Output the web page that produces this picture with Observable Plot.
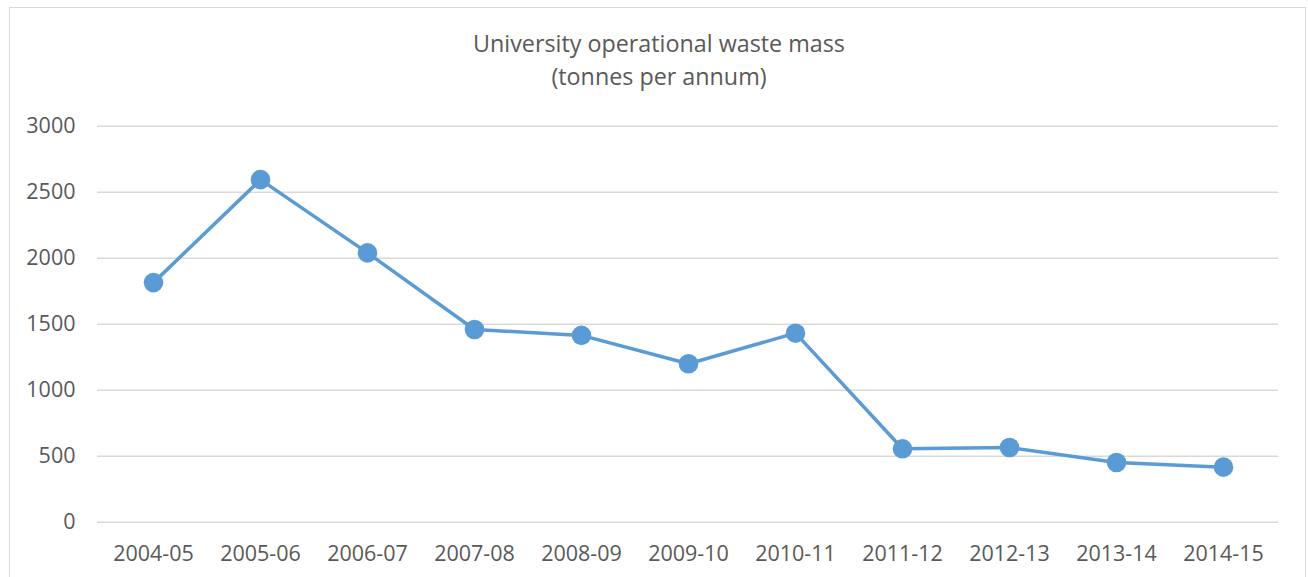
<!DOCTYPE html>
<html>
<head>
<meta charset="utf-8">
<script src="https://cdn.jsdelivr.net/npm/d3@7"></script>
<script src="https://cdn.jsdelivr.net/npm/@observablehq/plot@0.6"></script>
<style>
  html, body { margin: 0; padding: 0; background: #fff; overflow: hidden; }
  #wrap { position: relative; width: 1308px; height: 577px; }
  #frame { position: absolute; left: 9px; top: 7px; width: 1297px; height: 640px; box-sizing: border-box; border: 1px solid #d9d9d9; }
  #title { position: absolute; left: 0; top: 27px; width: 1318px; text-align: center; font-family: "Open Sans", sans-serif; font-size: 23.3px; line-height: 33px; color: #595959; }
  #chart { position: absolute; left: 0; top: 94px; }
</style>
</head>
<body>
<div id="wrap">
  <div id="frame"></div>
  <div id="title">University operational waste mass<br>(tonnes per annum)</div>
  <div id="chart"></div>
</div>
<script>
const categories = ["2004-05", "2005-06", "2006-07", "2007-08", "2008-09", "2009-10", "2010-11", "2011-12", "2012-13", "2013-14", "2014-15"];
const values = [1815, 2595, 2040, 1460, 1415, 1200, 1432, 556, 566, 452, 417];
const yTicks = [0, 500, 1000, 1500, 2000, 2500, 3000];

const data = categories.map((c, i) => ({period: c, value: values[i]}));

const chart = Plot.plot({
  width: 1308,
  height: 483,
  marginTop: 31.7,
  marginBottom: 55.3,
  marginLeft: 97,
  marginRight: 30,
  style: {fontFamily: "'Open Sans', sans-serif", fontSize: "21.5px", color: "#595959", background: "transparent", overflow: "visible"},
  x: {type: "point", domain: categories, padding: 0.5, label: null},
  y: {domain: [0, 3000], label: null},
  marks: [
    Plot.gridY(yTicks, {stroke: "#d9d9d9", strokeOpacity: 1, strokeWidth: 1.4}),
    Plot.axisY(yTicks, {tickSize: 0, tickPadding: 22, label: null, fill: "#595959", tickFormat: d => String(d)}),
    Plot.axisX({tickSize: 0, tickPadding: 24, label: null, fill: "#595959"}),
    Plot.line(data, {x: "period", y: "value", stroke: "#5b9bd5", strokeWidth: 3.5}),
    Plot.dot(data, {x: "period", y: "value", r: 9.8, fill: "#5b9bd5", stroke: "none"})
  ]
});
document.getElementById("chart").appendChild(chart);
</script>
</body>
</html>
